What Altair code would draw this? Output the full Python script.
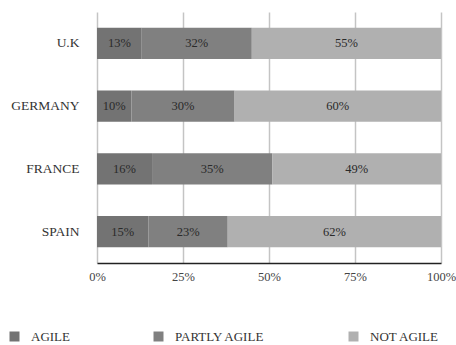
import altair as alt
import pandas as pd

countries = ["U.K", "GERMANY", "FRANCE", "SPAIN"]
categories = ["AGILE", "PARTLY AGILE", "NOT AGILE"]
agile = [13, 10, 16, 15]
partly = [32, 30, 35, 23]
not_agile = [55, 60, 49, 62]
colors = ["#737373", "#808080", "#b0b0b0"]
x_ticks = [0, 25, 50, 75, 100]

rows = []
for i, c in enumerate(countries):
    start = 0
    for k, vals in enumerate([agile, partly, not_agile]):
        v = vals[i]
        rows.append({"country": c, "category": categories[k], "order": k,
                     "start": start, "end": start + v, "mid": start + v / 2,
                     "label": f"{v}%"})
        start += v
df = pd.DataFrame(rows)

FONT = "'Times New Roman', 'Liberation Serif', 'DejaVu Serif', serif"

y_enc = alt.Y("country:N", sort=countries, title=None,
              scale=alt.Scale(paddingInner=0.5, paddingOuter=0.25),
              axis=alt.Axis(ticks=False, domain=False, labelPadding=18,
                            labelFont=FONT, labelFontSize=13.5, labelColor="#333333"))

bars = alt.Chart(df).mark_bar().encode(
    x=alt.X("start:Q", scale=alt.Scale(domain=[0, 100]), title=None,
            axis=alt.Axis(values=x_ticks, labelExpr="datum.value + '%'",
                          grid=True, gridColor="#c4c4c4", gridWidth=1.5,
                          domainColor="#222222", domainWidth=1.5,
                          ticks=False, labelPadding=7, labelFlush=False,
                          labelFont=FONT, labelFontSize=12.5, labelColor="#444444")),
    x2="end:Q",
    y=y_enc,
    color=alt.Color("category:N", sort=categories,
                    scale=alt.Scale(domain=categories, range=colors),
                    legend=alt.Legend(title=None, orient="none", direction="horizontal",
                                      legendX=-89, legendY=318,
                                      symbolType="square", symbolSize=100,
                                      symbolStrokeWidth=0, symbolOpacity=1,
                                      labelFont=FONT, labelFontSize=13,
                                      labelColor="#333333", labelOffset=10,
                                      columnPadding=82, gridAlign="none")),
    order="order:Q",
)

text = alt.Chart(df).mark_text(font=FONT, fontSize=12.5, color="#2a2a2a").encode(
    x="mid:Q",
    y=alt.Y("country:N", sort=countries),
    text="label:N",
)

chart = alt.layer(bars, text).properties(
    width=344, height=251,
    padding={"left": 97, "top": 12, "right": 15, "bottom": 82},
    autosize=alt.AutoSizeParams(type="none"),
).configure_view(stroke=None).configure_axisY(grid=False)

chart.save("out.html", embed_options={"renderer": "svg", "actions": False})
